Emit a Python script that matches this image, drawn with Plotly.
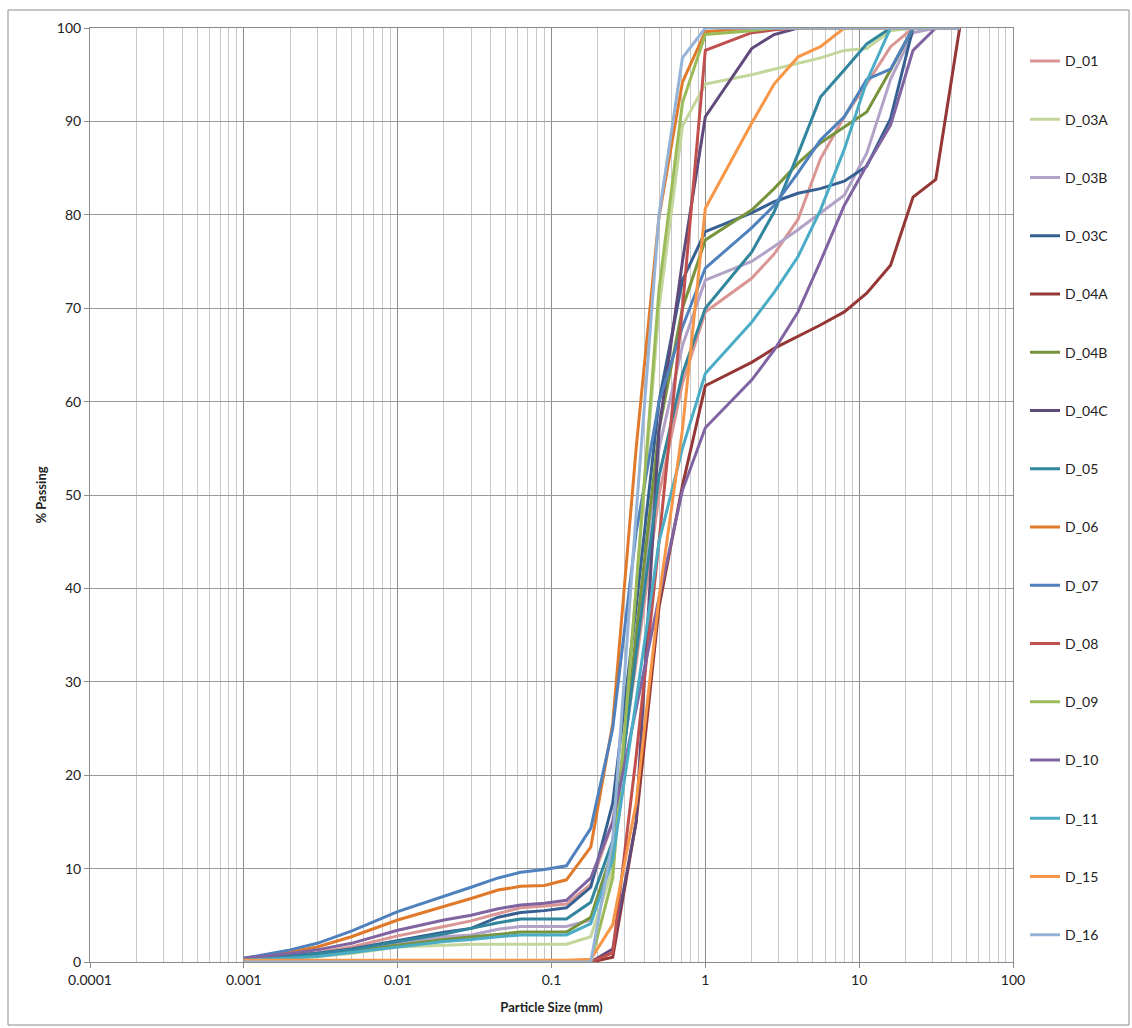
import plotly.graph_objects as go

# Particle sizes (mm)
sizes = [0.001, 0.002, 0.003, 0.005, 0.01, 0.02, 0.03, 0.045,
         0.063, 0.09, 0.125, 0.18, 0.25, 0.355, 0.5, 0.71, 1,
         2, 2.8, 4, 5.6, 8, 11.2, 16, 22.4, 31.5, 45]

D_01 = [0.3, 0.7, 1.0, 1.6, 2.8, 3.8, 4.4, 5.2, 5.8, 6.0, 6.2, 8.3,
        15, 32, 50, 62, 69.6, 73.2, 75.8, 79.5, 86, 90.5, 94, 98, 100, 100, 100]
D_03A = [0.2, 0.4, 0.6, 0.9, 1.6, 1.8, 1.9, 1.9, 1.9, 1.9, 1.9, 2.7,
         10, 40, 70, 89.5, 94, 95, 95.6, 96.2, 96.8, 97.6, 97.8, 99.7, 100, 100, 100]
D_03B = [0.2, 0.5, 0.8, 1.2, 2.0, 2.7, 2.9, 3.5, 3.8, 3.8, 3.8, 4.5,
         11, 35, 55, 66, 73, 75, 76.6, 78.4, 80.2, 82.1, 86.6, 94.5, 99.5, 100, 100]
D_03C = [0.3, 0.7, 0.95, 1.4, 2.3, 3.2, 3.6, 4.8, 5.3, 5.5, 5.8, 8.0,
         17, 38, 60, 73, 78.2, 80.2, 81.4, 82.3, 82.8, 83.6, 85.2, 90.3, 100, 100, 100]
D_04A = [0, 0, 0, 0, 0, 0, 0, 0, 0, 0, 0, 0,
         0.5, 15, 38, 51, 61.7, 64.2, 65.7, 67, 68.2, 69.6, 71.6, 74.6, 81.9, 83.8, 100]
D_04B = [0.2, 0.5, 0.7, 1.1, 1.8, 2.4, 2.7, 3.0, 3.2, 3.2, 3.2, 4.8,
         12, 35, 57, 70, 77.3, 80.5, 82.8, 85.5, 87.7, 89.4, 91, 95.5, 100, 100, 100]
D_04C = [0, 0, 0, 0, 0, 0, 0, 0, 0, 0, 0, 0,
         1.4, 15, 57, 75, 90.5, 97.8, 99.3, 100, 100, 100, 100, 100, 100, 100, 100]
D_05 = [0.3, 0.6, 0.9, 1.3, 2.2, 3.0, 3.6, 4.2, 4.6, 4.6, 4.6, 6.4,
        13, 33, 52, 63, 70, 76, 80.3, 86.5, 92.6, 95.5, 98.3, 100, 100, 100, 100]
D_06 = [0.4, 1.1, 1.6, 2.7, 4.5, 5.9, 6.8, 7.7, 8.1, 8.2, 8.8, 12.3,
        25.5, 55, 79.8, 94.2, 99.6, 100, 100, 100, 100, 100, 100, 100, 100, 100, 100]
D_07 = [0.4, 1.3, 2.0, 3.3, 5.4, 7.0, 8.0, 9.0, 9.6, 9.9, 10.3, 14.3,
        25, 46, 60, 68, 74.3, 78.6, 81, 84.5, 88, 90.5, 94.5, 95.6, 100, 100, 100]
D_08 = [0, 0, 0, 0, 0, 0, 0, 0, 0, 0, 0, 0,
        1, 22, 45, 70, 97.6, 99.5, 99.8, 100, 100, 100, 100, 100, 100, 100, 100]
D_09 = [0, 0, 0, 0, 0, 0, 0, 0, 0, 0, 0, 0,
        9, 40, 72, 92, 99.3, 99.7, 100, 100, 100, 100, 100, 100, 100, 100, 100]
D_10 = [0.4, 0.9, 1.3, 2.0, 3.4, 4.5, 5.0, 5.7, 6.1, 6.3, 6.6, 9.0,
        15, 27, 39, 50.5, 57.2, 62.3, 65.5, 69.6, 75, 81, 85.3, 89.6, 97.6, 100, 100]
D_11 = [0.2, 0.4, 0.6, 1.0, 1.6, 2.2, 2.4, 2.7, 2.9, 2.9, 2.9, 4.1,
        11, 28, 45, 55, 63, 68.5, 71.7, 75.5, 80.5, 87, 94.3, 100, 100, 100, 100]
D_15 = [0.2, 0.2, 0.2, 0.2, 0.2, 0.2, 0.2, 0.2, 0.2, 0.2, 0.2, 0.3,
        4, 17, 39, 57, 80.7, 89.8, 94, 96.9, 98, 100, 100, 100, 100, 100, 100]
D_16 = [0, 0, 0, 0, 0, 0, 0, 0, 0, 0, 0, 0,
        13, 48, 80, 96.8, 100, 100, 100, 100, 100, 100, 100, 100, 100, 100, 100]

series_names = ["D_01", "D_03A", "D_03B", "D_03C", "D_04A", "D_04B", "D_04C", "D_05",
                "D_06", "D_07", "D_08", "D_09", "D_10", "D_11", "D_15", "D_16"]
series_values = [D_01, D_03A, D_03B, D_03C, D_04A, D_04B, D_04C, D_05,
                 D_06, D_07, D_08, D_09, D_10, D_11, D_15, D_16]
series_colors = ["#DA9694", "#C3D69B", "#B3A2C7", "#376092", "#953735", "#77933C",
                 "#604A7B", "#31859C", "#E07A2A", "#4F81BD", "#C0504D", "#9BBB59",
                 "#8064A2", "#4BACC6", "#F79646", "#95B3D7"]

x_tickvals = [0.0001, 0.001, 0.01, 0.1, 1, 10, 100]
x_ticktext = ["0.0001", "0.001", "0.01", "0.1", "1", "10", "100"]

FONT = "Lato, 'Liberation Sans', sans-serif"
W, H = 1132, 1028
ML, MR, MT, MB = 90, 119, 28, 66

fig = go.Figure()
for name, vals, col in zip(series_names, series_values, series_colors):
    fig.add_trace(go.Scatter(x=sizes, y=vals, mode="lines", name=name,
                             legendgroup=name,
                             line=dict(color=col, width=3)))

pw = W - ML - MR
ph = H - MT - MB
fig.add_shape(type="rect", xref="paper", yref="paper",
              x0=(8 - ML) / pw, x1=(W - 3 - ML) / pw,
              y0=-(H - 3 - (H - MB)) / ph, y1=1 + (MT - 10) / ph,
              line=dict(color="#8C8C8C", width=1), layer="below")

fig.update_layout(
    width=W, height=H,
    margin=dict(l=ML, r=MR, t=MT, b=MB),
    paper_bgcolor="white", plot_bgcolor="white",
    font=dict(family=FONT, size=14, color="#222"),
    legend=dict(x=1.013, xanchor="left", y=0.9815, yanchor="top",
                tracegroupgap=37.05, font=dict(size=14, color="#222"),
                itemwidth=30, bgcolor="rgba(0,0,0,0)"),
    xaxis=dict(type="log", range=[-4, 2], tickvals=x_tickvals, ticktext=x_ticktext,
               showgrid=True, gridcolor="#8C8C8C", gridwidth=1,
               minor=dict(dtick="D1", showgrid=True, gridcolor="#C8C8C8", gridwidth=1, ticks=""),
               showline=True, linecolor="#8C8C8C", mirror=True,
               ticks="outside", ticklen=5, tickcolor="#8C8C8C",
               zeroline=False, tickfont=dict(size=14),
               title=dict(text="<b>Particle Size (mm)</b>", font=dict(size=13), standoff=16)),
    yaxis=dict(range=[0, 100], dtick=10, tick0=0,
               showgrid=True, gridcolor="#9A9A9A", gridwidth=1,
               showline=True, linecolor="#8C8C8C", mirror=True,
               ticks="outside", ticklen=5, tickcolor="#8C8C8C",
               zeroline=False, tickfont=dict(size=14),
               title=dict(text="<b>% Passing</b>", font=dict(size=13), standoff=7)),
)

fig.write_html("out.html")
